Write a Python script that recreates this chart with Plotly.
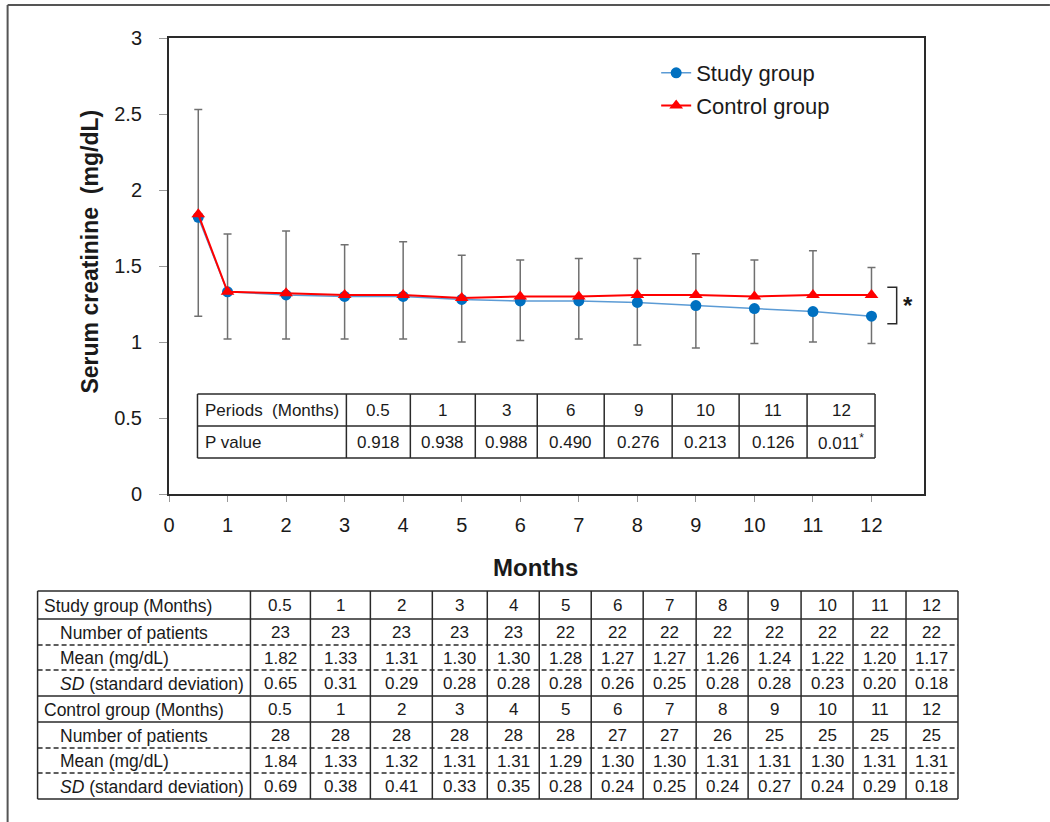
import plotly.graph_objects as go

# ---------------- data ----------------
months = [0.5, 1, 2, 3, 4, 5, 6, 7, 8, 9, 10, 11, 12]
month_labels = ["0.5", "1", "2", "3", "4", "5", "6", "7", "8", "9", "10", "11", "12"]
study_n = [23, 23, 23, 23, 23, 22, 22, 22, 22, 22, 22, 22, 22]
study_mean = [1.82, 1.33, 1.31, 1.30, 1.30, 1.28, 1.27, 1.27, 1.26, 1.24, 1.22, 1.20, 1.17]
study_sd = [0.65, 0.31, 0.29, 0.28, 0.28, 0.28, 0.26, 0.25, 0.28, 0.28, 0.23, 0.20, 0.18]
ctrl_n = [28, 28, 28, 28, 28, 28, 27, 27, 26, 25, 25, 25, 25]
ctrl_mean = [1.84, 1.33, 1.32, 1.31, 1.31, 1.29, 1.30, 1.30, 1.31, 1.31, 1.30, 1.31, 1.31]
ctrl_sd = [0.69, 0.38, 0.41, 0.33, 0.35, 0.28, 0.24, 0.25, 0.24, 0.27, 0.24, 0.29, 0.18]
p_periods = ["0.5", "1", "3", "6", "9", "10", "11", "12"]
p_values = ["0.918", "0.938", "0.988", "0.490", "0.276", "0.213", "0.126", "0.011<sup>*</sup>"]
x_ticks = list(range(0, 13))
y_ticks = [0, 0.5, 1, 1.5, 2, 2.5, 3]

# ---------------- geometry helpers ----------------
W, H = 1050, 822
L, R, T, B = 168.5, 924, 38, 494
FONT = "Liberation Sans, Arial, sans-serif"
TXT = "#1a1a1a"
LINE = "#2a2a2a"


def fx(p):
    return (p - L) / (R - L)


def fy(p):
    return (B - p) / (B - T)


def text(x, y, s, size, xanchor="center"):
    return dict(xref="paper", yref="paper", x=fx(x), y=fy(y), text=s, showarrow=False,
                xanchor=xanchor, yanchor="middle",
                font=dict(size=size, color=TXT, family=FONT))


fig = go.Figure()

fig.add_trace(go.Scatter(
    x=months, y=study_mean, name="Study group", mode="lines+markers",
    line=dict(color="#5b9bd5", width=1.5),
    marker=dict(symbol="circle", size=11, color="#0070c0"),
    error_y=dict(type="data", symmetric=False, array=[0] * len(study_sd),
                 arrayminus=study_sd, color="#707070", thickness=1.5, width=4),
    legendgroup="s",
))
fig.add_trace(go.Scatter(
    x=months, y=ctrl_mean, name="Control group", mode="lines+markers",
    line=dict(color="#ff0000", width=2),
    marker=dict(symbol="triangle-up", size=12, color="#ff0000"),
    error_y=dict(type="data", symmetric=False, array=ctrl_sd,
                 arrayminus=[0] * len(ctrl_sd), color="#707070", thickness=1.5, width=4),
    legendgroup="c",
))

shapes = []
ann = []

# outer frame (top and left edges)
shapes.append(dict(type="line", xref="paper", yref="paper", x0=fx(7), x1=fx(1050),
                   y0=fy(5), y1=fy(5), line=dict(color="#555", width=2)))
shapes.append(dict(type="line", xref="paper", yref="paper", x0=fx(7), x1=fx(7),
                   y0=fy(5), y1=fy(822), line=dict(color="#555", width=2)))

# significance bracket
shapes.append(dict(type="path", xref="x", yref="y",
                   path="M 12.27,1.36 L 12.43,1.36 L 12.43,1.12 L 12.27,1.12",
                   line=dict(color=LINE, width=1.5)))
ann.append(dict(xref="x", yref="y", x=12.62, y=1.24, text="<b>*</b>", showarrow=False,
                xanchor="center", yanchor="middle",
                font=dict(size=24, color=TXT, family=FONT)))

# axis titles
t = text(89, 252, "<b>Serum creatinine&nbsp; (mg/dL)</b>", 23)
t["textangle"] = -90
ann.append(t)
ann.append(text(535, 567, "<b>Months</b>", 24))

# ---------------- P-value table inside plot ----------------
pcols = [197, 346, 410, 475, 537, 604, 672, 739, 807, 875]
prows = [394, 426, 458]
for yy in prows:
    shapes.append(dict(type="line", xref="paper", yref="paper", x0=fx(pcols[0]), x1=fx(pcols[-1]),
                       y0=fy(yy), y1=fy(yy), line=dict(color=LINE, width=1.5)))
for xx in pcols:
    shapes.append(dict(type="line", xref="paper", yref="paper", x0=fx(xx), x1=fx(xx),
                       y0=fy(prows[0]), y1=fy(prows[-1]), line=dict(color=LINE, width=1.5)))
ann.append(text(203, 411, "Periods&nbsp; (Months)", 17, "left"))
ann.append(text(203, 442, "P value", 17, "left"))
for i, (per, pv) in enumerate(zip(p_periods, p_values)):
    cx = (pcols[i + 1] + pcols[i + 2]) / 2
    ann.append(text(cx, 411, per, 17))
    ann.append(text(cx, 442, pv, 17))

# ---------------- bottom data table ----------------
tcols = [37, 250, 310, 370, 432, 487, 539, 591, 643, 696, 748, 801, 853, 906, 958]
trows = [591, 619, 645, 670, 696, 722, 748, 773, 799]
solid_rows = [591, 619, 696, 722, 799]
for yy in trows:
    solid = yy in solid_rows
    shapes.append(dict(type="line", xref="paper", yref="paper", x0=fx(tcols[0]), x1=fx(tcols[-1]),
                       y0=fy(yy), y1=fy(yy),
                       line=dict(color=LINE, width=1.6 if solid else 1.3,
                                 dash="solid" if solid else "5px,3px")))
for xx in tcols:
    shapes.append(dict(type="line", xref="paper", yref="paper", x0=fx(xx), x1=fx(xx),
                       y0=fy(trows[0]), y1=fy(trows[-1]), line=dict(color=LINE, width=1.5)))

row_labels = [
    ("Study group (Months)", 41), ("Number of patients", 57), ("Mean (mg/dL)", 57),
    ("<i>SD</i> (standard deviation)", 57),
    ("Control group (Months)", 41), ("Number of patients", 57), ("Mean (mg/dL)", 57),
    ("<i>SD</i> (standard deviation)", 57),
]
row_values = [
    month_labels,
    [str(v) for v in study_n],
    ["%.2f" % v for v in study_mean],
    ["%.2f" % v for v in study_sd],
    month_labels,
    [str(v) for v in ctrl_n],
    ["%.2f" % v for v in ctrl_mean],
    ["%.2f" % v for v in ctrl_sd],
]
for r, ((lab, lx), vals) in enumerate(zip(row_labels, row_values)):
    cy = (trows[r] + trows[r + 1]) / 2 + 0.5
    ann.append(text(lx, cy, lab, 17.5, "left"))
    for c, v in enumerate(vals):
        cx = (tcols[c + 1] + tcols[c + 2]) / 2
        ann.append(text(cx, cy, v, 17))

fig.update_layout(
    width=W, height=H,
    margin=dict(l=L, r=W - R, t=T, b=H - B, pad=0),
    paper_bgcolor="white", plot_bgcolor="white",
    font=dict(family=FONT, color=TXT),
    showlegend=True,
    legend=dict(x=fx(656), y=fy(52), xanchor="left", yanchor="top",
                font=dict(size=22, color=TXT, family=FONT), bgcolor="rgba(0,0,0,0)",
                tracegroupgap=1),
    shapes=shapes, annotations=ann,
    xaxis=dict(range=[0, (R - L) / 58.58], tickvals=x_ticks, ticktext=[str(t) for t in x_ticks],
               showgrid=False, zeroline=False, showline=True, mirror=True,
               linecolor=LINE, linewidth=2, ticks="outside", ticklen=6, tickcolor="#999",
               tickfont=dict(size=20, color=TXT, family=FONT), ticklabelstandoff=6),
    yaxis=dict(range=[0, 3], tickvals=y_ticks, ticktext=["0", "0.5", "1", "1.5", "2", "2.5", "3"],
               showgrid=False, zeroline=False, showline=True, mirror=True,
               linecolor=LINE, linewidth=2, ticks="outside", ticklen=8, tickcolor="#999",
               tickfont=dict(size=20, color=TXT, family=FONT), ticklabelstandoff=13),
)

fig.write_html("out.html", config={"displayModeBar": False},
               post_script="document.body.style.margin='0px';")
